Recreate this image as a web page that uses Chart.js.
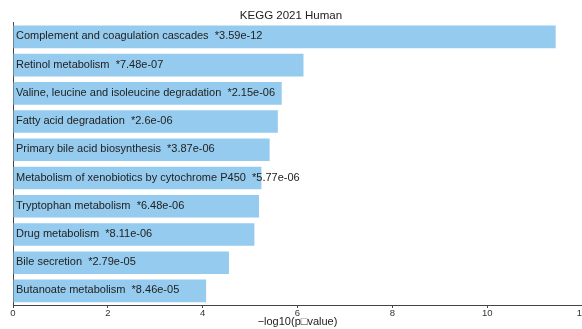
<!DOCTYPE html>
<html>
<head>
<meta charset="utf-8">
<script src="https://cdn.jsdelivr.net/npm/chart.js@4/dist/chart.umd.min.js"></script>
<style>
  html, body { margin: 0; padding: 0; background: #fff; overflow: hidden; }
  #wrap { position: relative; width: 595px; height: 329px; }
</style>
</head>
<body>
<div id="wrap"><canvas id="c"></canvas></div>
<script>
// Top enriched KEGG 2021 Human pathways
const terms = [
  "Complement and coagulation cascades",
  "Retinol metabolism",
  "Valine, leucine and isoleucine degradation",
  "Fatty acid degradation",
  "Primary bile acid biosynthesis",
  "Metabolism of xenobiotics by cytochrome P450",
  "Tryptophan metabolism",
  "Drug metabolism",
  "Bile secretion",
  "Butanoate metabolism"
];
const pValueLabels = [
  "3.59e-12", "7.48e-07", "2.15e-06", "2.6e-06", "3.87e-06",
  "5.77e-06", "6.48e-06", "8.11e-06", "2.79e-05", "8.46e-05"
];
const xTicks = [0, 2, 4, 6, 8, 10, 12];

// bar length is -log10 of the p-value printed next to each term
const scores = pValueLabels.map(p => -Math.log10(parseFloat(p)));

const FONT = "'Liberation Sans', Arial, sans-serif";

// writes "term  *p" inside each bar, left aligned
const barText = {
  id: 'barText',
  afterDatasetsDraw(chart) {
    const ctx = chart.ctx;
    const meta = chart.getDatasetMeta(0);
    const left = chart.chartArea.left;
    ctx.save();
    ctx.font = "11px " + FONT;
    ctx.fillStyle = '#222';
    ctx.textAlign = 'left';
    ctx.textBaseline = 'middle';
    meta.data.forEach((bar, i) => {
      ctx.fillText(terms[i] + '  *' + pValueLabels[i], left + 3, bar.y - 0.5);
    });
    ctx.restore();
  }
};

new Chart(document.getElementById('c'), {
  type: 'bar',
  data: {
    labels: terms,
    datasets: [{
      data: scores,
      backgroundColor: '#95cbee',
      borderWidth: 0,
      categoryPercentage: 1.0,
      barPercentage: 0.8
    }]
  },
  options: {
    indexAxis: 'y',
    responsive: true,
    maintainAspectRatio: false,
    animation: false,
    layout: { padding: { left: 0, right: 13, top: 0, bottom: 0 } },
    plugins: {
      legend: { display: false },
      tooltip: { enabled: false },
      title: {
        display: true,
        text: 'KEGG 2021 Human',
        color: '#222',
        font: { family: FONT, size: 11.5, weight: 'normal' },
        padding: { top: 9, bottom: 0 }
      }
    },
    scales: {
      x: {
        type: 'linear',
        min: 0,
        max: 12,
        afterBuildTicks(s) { s.ticks = xTicks.map(v => ({ value: v })); },
        afterFit(s) { s.height = 24; },
        grid: { display: true, drawOnChartArea: false, drawTicks: true, tickLength: 3, color: '#444' },
        border: { display: true, color: '#444', width: 1 },
        ticks: { color: '#333', padding: 0, font: { family: FONT, size: 9.5 }, maxRotation: 0 },
        title: {
          display: true,
          text: '\u2212log10(p\u25A1value)',
          color: '#222',
          font: { family: FONT, size: 11 },
          padding: { top: 0, bottom: 0 }
        }
      },
      y: {
        afterFit(s) { s.width = 13; },
        grid: { display: false },
        border: { display: true, color: '#444', width: 1 },
        ticks: { display: false }
      }
    }
  },
  plugins: [barText]
});
</script>
</body>
</html>
